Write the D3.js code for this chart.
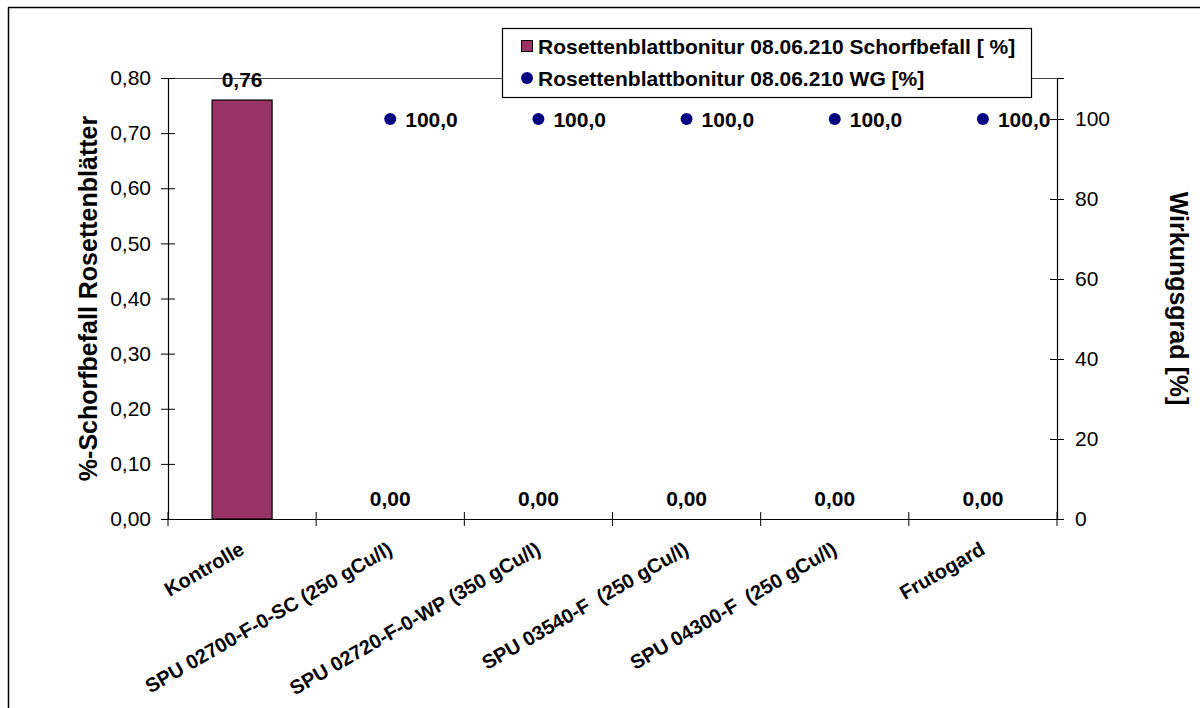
<!DOCTYPE html>
<html>
<head>
<meta charset="utf-8">
<script src="https://cdn.jsdelivr.net/npm/d3@7"></script>
<style>
  html, body { margin: 0; padding: 0; background: #fff; }
  svg { display: block; font-family: Arial, "Liberation Sans", sans-serif; }
  .cat-label { white-space: pre; }
</style>
</head>
<body>
<svg id="chart" width="1200" height="708"></svg>
<script>
// Treatments on the x axis
const categories = [
  "Kontrolle",
  "SPU 02700-F-0-SC (250 gCu/l)",
  "SPU 02720-F-0-WP (350 gCu/l)",
  "SPU 03540-F  (250 gCu/l)",
  "SPU 04300-F  (250 gCu/l)",
  "Frutogard"
];
// Scab infestation of rosette leaves [%] (left axis)
const schorfbefall = [0.76, 0.00, 0.00, 0.00, 0.00, 0.00];
// Efficacy [%] (right axis); no value for the control
const wirkungsgrad = [null, 100.0, 100.0, 100.0, 100.0, 100.0];

const leftTicks = [0, 0.1, 0.2, 0.3, 0.4, 0.5, 0.6, 0.7, 0.8];
const rightTicks = [0, 20, 40, 60, 80, 100];

const legendLabels = [
  "Rosettenblattbonitur 08.06.210 Schorfbefall [ %]",
  "Rosettenblattbonitur 08.06.210 WG [%]"
];

const barColor = "#993366";
const dotColor = "#000080";

const svg = d3.select("#chart");
const plot = { left: 168, right: 1057, top: 78, bottom: 519 };

// chart frame (left and top edges)
svg.append("line").attr("x1", 8.5).attr("x2", 8.5).attr("y1", 7.5).attr("y2", 708)
  .attr("stroke", "#000").attr("stroke-width", 1.5);
svg.append("line").attr("x1", 8).attr("x2", 1200).attr("y1", 7.5).attr("y2", 7.5)
  .attr("stroke", "#000").attr("stroke-width", 1.5);

const x = d3.scaleBand().domain(categories).range([plot.left, plot.right]);
const yL = d3.scaleLinear().domain([0, 0.8]).range([plot.bottom, plot.top]);
const yR = d3.scaleLinear().domain([0, 110.25]).range([plot.bottom, plot.top]);

const fmt2 = v => d3.format(".2f")(v).replace(".", ",");
const fmt1 = v => d3.format(".1f")(v).replace(".", ",");

// top plot border
svg.append("line").attr("x1", plot.left).attr("x2", plot.right)
  .attr("y1", plot.top + 0.5).attr("y2", plot.top + 0.5)
  .attr("stroke", "#444").attr("stroke-width", 1);

// left axis
const gL = svg.append("g").attr("transform", `translate(${plot.left},0)`)
  .call(d3.axisLeft(yL).tickValues(leftTicks).tickFormat(fmt2).tickSize(7).tickPadding(10));
gL.selectAll(".tick line").clone().attr("x2", 7);
// right axis
const gR = svg.append("g").attr("transform", `translate(${plot.right},0)`)
  .call(d3.axisRight(yR).tickValues(rightTicks).tickFormat(d3.format("d")).tickSize(7).tickPadding(11));
gR.selectAll(".tick line").clone().attr("x2", -7);
// x axis: ticks at category boundaries
const gX = svg.append("g").attr("transform", `translate(0,${plot.bottom})`)
  .call(d3.axisBottom(x).tickSize(0).tickFormat(""));
const bounds = categories.map(c => x(c)).concat([plot.right]);
gX.selectAll(".bound").data(bounds).join("line").attr("class", "bound")
  .attr("x1", d => d).attr("x2", d => d).attr("y1", -7).attr("y2", 7)
  .attr("stroke", "#000");

[gL, gR, gX].forEach(g => {
  g.select(".domain").attr("stroke", "#000").attr("stroke-width", 1.2);
  g.selectAll(".tick line").attr("stroke", "#000");
  g.selectAll(".tick text").attr("font-size", 21).attr("fill", "#000")
    .attr("font-family", "Arial, 'Liberation Sans', sans-serif");
});

// category labels
svg.append("g").selectAll("text").data(categories).join("text")
  .attr("class", "cat-label")
  .attr("transform", d => `translate(${x(d) + x.bandwidth() / 2},${plot.bottom + 28}) rotate(-30)`)
  .attr("text-anchor", "end")
  .attr("font-size", 20).attr("font-weight", "bold")
  .attr("dy", "0.35em")
  .text(d => d);

// bars
const barW = x.bandwidth() * 0.405;
svg.append("g").selectAll("rect").data(schorfbefall).join("rect")
  .attr("x", (d, i) => x(categories[i]) + (x.bandwidth() - barW) / 2)
  .attr("y", d => yL(d))
  .attr("width", barW)
  .attr("height", d => yL(0) - yL(d))
  .attr("fill", barColor).attr("stroke", "#000").attr("stroke-width", 1.2);

// bar value labels
svg.append("g").selectAll("text").data(schorfbefall).join("text")
  .attr("x", (d, i) => x(categories[i]) + x.bandwidth() / 2)
  .attr("y", d => yL(d) - 13)
  .attr("text-anchor", "middle")
  .attr("font-size", 21).attr("font-weight", "bold")
  .text(d => fmt2(d));

// efficacy dots
const wgData = wirkungsgrad.map((v, i) => ({ v, c: categories[i] })).filter(d => d.v !== null);
svg.append("g").selectAll("circle").data(wgData).join("circle")
  .attr("cx", d => x(d.c) + x.bandwidth() / 2)
  .attr("cy", d => yR(d.v))
  .attr("r", 6)
  .attr("fill", dotColor);
svg.append("g").selectAll("text").data(wgData).join("text")
  .attr("x", d => x(d.c) + x.bandwidth() / 2 + 15)
  .attr("y", d => yR(d.v))
  .attr("dy", "0.36em")
  .attr("font-size", 21).attr("font-weight", "bold")
  .text(d => fmt1(d.v));

// axis titles
svg.append("text")
  .attr("transform", `translate(97,${(plot.top + plot.bottom) / 2}) rotate(-90)`)
  .attr("text-anchor", "middle")
  .attr("font-size", 25).attr("font-weight", "bold")
  .text("%-Schorfbefall Rosettenblätter");
svg.append("text")
  .attr("transform", `translate(1170,${(plot.top + plot.bottom) / 2}) rotate(90)`)
  .attr("text-anchor", "middle")
  .attr("font-size", 25).attr("font-weight", "bold")
  .text("Wirkungsgrad [%]");

// legend
const lg = svg.append("g");
lg.append("rect").attr("x", 502.5).attr("y", 28.5).attr("width", 529).attr("height", 69)
  .attr("fill", "#fff").attr("stroke", "#000").attr("stroke-width", 1.2);
lg.append("rect").attr("x", 521.5).attr("y", 40.5).attr("width", 11).attr("height", 11)
  .attr("fill", barColor).attr("stroke", "#000");
lg.append("circle").attr("cx", 527).attr("cy", 78).attr("r", 6).attr("fill", dotColor);
lg.selectAll("text").data(legendLabels).join("text")
  .attr("x", 538)
  .attr("y", (d, i) => 46 + i * 32)
  .attr("dy", "0.36em")
  .attr("font-size", 21).attr("font-weight", "bold")
  .text(d => d);
</script>
</body>
</html>
